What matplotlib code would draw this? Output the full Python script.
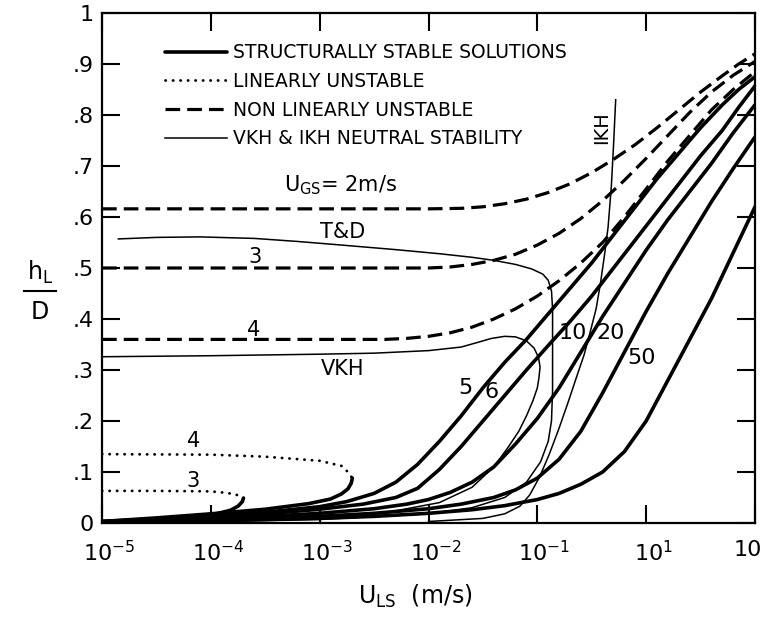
import numpy as np
import matplotlib.pyplot as plt
from matplotlib.lines import Line2D
from matplotlib.transforms import ScaledTranslation

# log10(U_LS) and h_L/D, one pair of lists per curve

# structurally stable solutions (thick solid)
s3_e = [-5.0, -4.6, -4.2, -3.95, -3.82, -3.75, -3.71, -3.70]
s3_h = [0.002, 0.006, 0.012, 0.018, 0.025, 0.033, 0.042, 0.049]
s4_e = [-5.0, -4.5, -4.0, -3.5, -3.1, -2.9, -2.8, -2.74, -2.71, -2.70]
s4_h = [0.003, 0.01, 0.018, 0.027, 0.038, 0.047, 0.057, 0.067, 0.078, 0.088]
s5_e = [-5.0, -4.5, -4.0, -3.5, -3.0, -2.75, -2.5, -2.3, -2.1, -1.9, -1.7, -1.5, -1.3,
        -1.1, -0.9, -0.7, -0.5, -0.3, -0.1, 0.1, 0.3, 0.5, 0.7, 0.85, 1.0]
s5_h = [0.003, 0.008, 0.014, 0.021, 0.032, 0.042, 0.058, 0.08, 0.115, 0.16, 0.21, 0.265,
        0.315, 0.36, 0.41, 0.46, 0.51, 0.565, 0.62, 0.675, 0.725, 0.775, 0.82, 0.85, 0.875]
s6_e = [-5.0, -4.5, -4.0, -3.5, -3.0, -2.6, -2.3, -2.1, -1.9, -1.7, -1.5, -1.3, -1.1,
        -0.9, -0.7, -0.5, -0.3, -0.1, 0.1, 0.3, 0.5, 0.7, 0.85, 1.0]
s6_h = [0.003, 0.007, 0.012, 0.018, 0.027, 0.037, 0.05, 0.068, 0.105, 0.15, 0.2, 0.25,
        0.3, 0.348, 0.395, 0.445, 0.5, 0.555, 0.61, 0.665, 0.72, 0.77, 0.815, 0.857]
s10_e = [-5.0, -4.5, -4.0, -3.5, -3.0, -2.5, -2.2, -2.0, -1.8, -1.6, -1.4, -1.2, -1.0,
         -0.8, -0.6, -0.4, -0.2, 0.0, 0.2, 0.4, 0.6, 0.8, 1.0]
s10_h = [0.002, 0.005, 0.008, 0.013, 0.019, 0.028, 0.037, 0.046, 0.06, 0.08, 0.11, 0.155,
         0.205, 0.265, 0.335, 0.405, 0.47, 0.535, 0.595, 0.65, 0.705, 0.765, 0.82]
s20_e = [-5.0, -4.0, -3.0, -2.5, -2.0, -1.7, -1.4, -1.2, -1.0, -0.8, -0.6, -0.4, -0.2,
         0.0, 0.2, 0.4, 0.6, 0.8, 1.0]
s20_h = [0.002, 0.006, 0.013, 0.019, 0.028, 0.037, 0.05, 0.065, 0.088, 0.125, 0.18,
         0.255, 0.335, 0.415, 0.49, 0.56, 0.63, 0.695, 0.757]
s50_e = [-5.0, -4.0, -3.0, -2.5, -2.0, -1.6, -1.3, -1.0, -0.8, -0.6, -0.4, -0.2, 0.0,
         0.2, 0.4, 0.6, 0.8, 1.0]
s50_h = [0.001, 0.004, 0.009, 0.013, 0.019, 0.026, 0.034, 0.046, 0.058, 0.076, 0.1,
         0.14, 0.2, 0.28, 0.36, 0.44, 0.53, 0.62]

# linearly unstable (dotted)
u3_e = [-5.0, -4.5, -4.0, -3.85, -3.76, -3.70]
u3_h = [0.063, 0.063, 0.062, 0.059, 0.055, 0.049]
u4_e = [-5.0, -4.0, -3.5, -3.0, -2.8, -2.74, -2.70]
u4_h = [0.135, 0.134, 0.13, 0.122, 0.112, 0.10, 0.088]

# non linearly unstable (dashed)
d2_e = [-5.0, -2.0, -1.7, -1.5, -1.3, -1.1, -0.9, -0.7, -0.5, -0.3, -0.1, 0.1, 0.3,
        0.5, 0.7, 0.85, 1.0]
d2_h = [0.616, 0.616, 0.617, 0.62, 0.626, 0.635, 0.648, 0.665, 0.687, 0.713, 0.742,
        0.775, 0.81, 0.845, 0.877, 0.9, 0.92]
d3_e = [-5.0, -2.0, -1.8, -1.6, -1.4, -1.2, -1.0, -0.8, -0.6, -0.4, -0.2, 0.0, 0.2,
        0.4, 0.6, 0.8, 1.0]
d3_h = [0.5, 0.5, 0.502, 0.507, 0.515, 0.527, 0.545, 0.568, 0.597, 0.632, 0.672, 0.715,
        0.76, 0.805, 0.845, 0.878, 0.905]
d4_e = [-5.0, -2.4, -2.2, -2.0, -1.8, -1.6, -1.4, -1.2, -1.0, -0.8, -0.6, -0.4, -0.2,
        0.0, 0.2, 0.4, 0.6, 0.8, 1.0]
d4_h = [0.36, 0.36, 0.362, 0.366, 0.373, 0.384, 0.4, 0.42, 0.445, 0.475, 0.51, 0.55,
        0.60, 0.655, 0.71, 0.76, 0.81, 0.85, 0.885]

# neutral stability lines (thin)
td_e = [-4.85, -4.5, -4.1, -3.6, -3.2, -2.8, -2.3, -1.9, -1.6, -1.4, -1.2, -1.05, -0.95,
        -0.9, -0.87, -0.86, -0.86, -0.87, -0.9, -0.97, -1.1, -1.3, -1.6, -2.0, -3.0,
        -4.0, -5.0]
td_h = [0.557, 0.56, 0.561, 0.558, 0.552, 0.545, 0.536, 0.528, 0.521, 0.515, 0.507,
        0.498, 0.488, 0.476, 0.455, 0.42, 0.26, 0.2, 0.16, 0.12, 0.08, 0.05, 0.03,
        0.018, 0.007, 0.003, 0.001]
vkh_e = [-5.0, -4.0, -3.0, -2.5, -2.0, -1.7, -1.55, -1.42, -1.3, -1.2, -1.1, -1.03,
         -0.99, -0.975, -0.985, -1.0, -1.04, -1.1, -1.17, -1.27, -1.4, -1.6, -1.9,
         -2.4, -3.0, -5.0]
vkh_h = [0.326, 0.328, 0.331, 0.333, 0.338, 0.345, 0.354, 0.362, 0.366, 0.365, 0.357,
         0.343, 0.325, 0.306, 0.285, 0.265, 0.24, 0.21, 0.18, 0.148, 0.11, 0.07, 0.04,
         0.02, 0.01, 0.002]
ikh_e = [-0.28, -0.30, -0.32, -0.35, -0.38, -0.42, -0.46, -0.51, -0.57, -0.64, -0.72,
         -0.8, -0.89, -0.98, -1.07, -1.16, -1.3, -1.5, -2.0]
ikh_h = [0.83, 0.74, 0.66, 0.58, 0.53, 0.47, 0.42, 0.378, 0.33, 0.286, 0.235, 0.186,
         0.135, 0.09, 0.055, 0.033, 0.018, 0.009, 0.003]

xticks = [1e-5, 1e-4, 1e-3, 1e-2, 1e-1, 1e0, 1e1]
xticklabels = ['10$^{-5}$', '10$^{-4}$', '10$^{-3}$', '10$^{-2}$', '10$^{-1}$', '10$^{1}$', '10']
yticks = [0, .1, .2, .3, .4, .5, .6, .7, .8, .9, 1]
yticklabels = ['0', '.1', '.2', '.3', '.4', '.5', '.6', '.7', '.8', '.9', '1']

plt.rcParams['mathtext.default'] = 'regular'

fig = plt.figure(figsize=(7.63, 6.18), dpi=100)
ax = fig.add_axes([102 / 763, 1 - 523 / 618, 653 / 763, 510 / 618])

thick = dict(color='black', lw=2.6, solid_capstyle='round', solid_joinstyle='round')
thin = dict(color='black', lw=1.1, solid_joinstyle='round')
dash = dict(color='black', lw=2.3, dashes=(4.6, 2.2))
dot = dict(color='black', lw=2.0, dashes=(0.1, 2.6), dash_capstyle='round')


def U(e):
    return 10.0 ** np.array(e)


for e, h in [(s3_e, s3_h), (s4_e, s4_h), (s5_e, s5_h), (s6_e, s6_h),
             (s10_e, s10_h), (s20_e, s20_h), (s50_e, s50_h)]:
    ax.plot(U(e), h, **thick)
for e, h in [(u3_e, u3_h), (u4_e, u4_h)]:
    ax.plot(U(e), h, **dot)
for e, h in [(d2_e, d2_h), (d3_e, d3_h), (d4_e, d4_h)]:
    ax.plot(U(e), h, **dash)
for e, h in [(td_e, td_h), (vkh_e, vkh_h), (ikh_e, ikh_h)]:
    ax.plot(U(e), h, **thin)

ax.set_xscale('log')
ax.set_xlim(1e-5, 10)
ax.set_ylim(0, 1)
ax.set_xticks(xticks)
ax.set_xticklabels(xticklabels)
ax.xaxis.set_minor_locator(plt.NullLocator())
ax.set_yticks(yticks)
ax.set_yticklabels(yticklabels)
ax.tick_params(direction='in', length=13, width=1.5, top=True, right=True, labelsize=16)
ax.tick_params(axis='x', pad=12)
ax.tick_params(axis='y', pad=6)
for sp in ax.spines.values():
    sp.set_linewidth(1.6)

# put the base "10" of each tick label under its tick, like the original lettering
xlabs = ax.get_xticklabels()
for lab in xlabs[:-1]:
    lab.set_transform(lab.get_transform() + ScaledTranslation(5 / 72, 0, fig.dpi_scale_trans))
xlabs[-1].set_transform(xlabs[-1].get_transform()
                        + ScaledTranslation(-5 / 72, 0, fig.dpi_scale_trans))

# curve labels
fs = 15
ax.text(10 ** -2.81, 0.663, 'U$_{GS}$= 2m/s', fontsize=fs, ha='center', va='center')
ax.text(10 ** -2.79, 0.571, 'T&D', fontsize=fs, ha='center', va='center')
ax.text(10 ** -3.59, 0.522, '3', fontsize=fs, ha='center', va='center')
ax.text(10 ** -3.61, 0.378, '4', fontsize=fs, ha='center', va='center')
ax.text(10 ** -2.79, 0.302, 'VKH', fontsize=fs, ha='center', va='center')
ax.text(10 ** -4.16, 0.161, '4', fontsize=fs, ha='center', va='center')
ax.text(10 ** -4.16, 0.082, '3', fontsize=fs, ha='center', va='center')
ax.text(10 ** -1.66, 0.265, '5', fontsize=16, ha='center', va='center')
ax.text(10 ** -1.42, 0.257, '6', fontsize=16, ha='center', va='center')
ax.text(10 ** -0.67, 0.373, '10', fontsize=16, ha='center', va='center')
ax.text(10 ** -0.33, 0.373, '20', fontsize=16, ha='center', va='center')
ax.text(10 ** -0.046, 0.324, '50', fontsize=16, ha='center', va='center')
ax.text(10 ** -0.41, 0.775, 'IKH', fontsize=14, ha='center', va='center', rotation=90)

handles = [Line2D([], [], **thick), Line2D([], [], **dot),
           Line2D([], [], **dash), Line2D([], [], **thin)]
labels = ['STRUCTURALLY STABLE SOLUTIONS', 'LINEARLY UNSTABLE',
          'NON LINEARLY UNSTABLE', 'VKH & IKH NEUTRAL STABILITY']
ax.legend(handles, labels, loc='upper left', bbox_to_anchor=(0.085, 0.955),
          frameon=False, fontsize=13.5, handlelength=3.3, handletextpad=0.3,
          labelspacing=0.51, borderaxespad=0)

# axis titles
fig.text(415 / 763, 1 - 596 / 618, 'U$_{LS}$  (m/s)', fontsize=17, ha='center', va='center')
fig.text(40 / 763, 1 - 272 / 618, 'h$_L$', fontsize=17, ha='center', va='center')
fig.text(40 / 763, 1 - 312 / 618, 'D', fontsize=17, ha='center', va='center')
fig.add_artist(Line2D([24 / 763, 56 / 763], [1 - 291 / 618, 1 - 291 / 618],
                      color='black', lw=1.5))

fig.savefig('out.png', dpi=100)
